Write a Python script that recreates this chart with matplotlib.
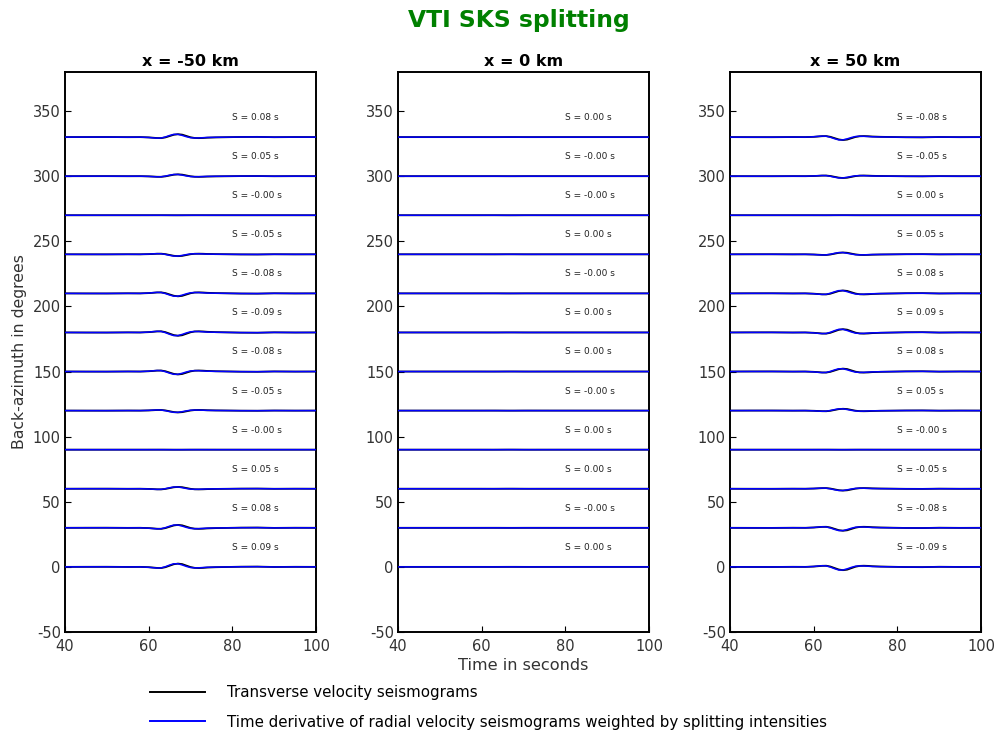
import numpy as np
import matplotlib
matplotlib.use("Agg")
import matplotlib.pyplot as plt
from matplotlib.lines import Line2D

plt.rcParams["axes.unicode_minus"] = False

# Back-azimuths of the traces (degrees)
back_azimuths = [0, 30, 60, 90, 120, 150, 180, 210, 240, 270, 300, 330]

# Station offsets and the splitting intensity measured at each back-azimuth (s)
offsets_km = [-50, 0, 50]
split_west = [0.09, 0.08, 0.05, -0.001, -0.05, -0.08, -0.09, -0.08, -0.05, -0.001, 0.05, 0.08]
split_mid = [0.001, -0.001, 0.001, 0.001, -0.001, 0.001, 0.001, -0.001, 0.001, -0.001, -0.001, 0.001]
split_east = [-0.09, -0.08, -0.05, -0.001, 0.05, 0.08, 0.09, 0.08, 0.05, 0.001, -0.05, -0.08]
split_sets = [split_west, split_mid, split_east]

# Sampled waveforms (normalised amplitude per second of splitting intensity)
time_s = [40, 45, 50, 55, 58, 60, 61, 62, 63, 64, 65, 66, 67, 68, 69, 70,
          71, 72, 73, 74, 76, 78, 82, 86, 90, 95, 100]
transverse = [0, 0.02, 0.03, -0.02, 0, -0.1, -0.2, -0.32, -0.35, -0.1, 0.35, 0.8,
              1.0, 0.85, 0.4, -0.05, -0.3, -0.35, -0.3, -0.2, -0.1, -0.05, 0.05,
              0.08, -0.03, 0.02, 0]
radial_deriv = [0, 0.02, 0.02, -0.02, 0, -0.12, -0.25, -0.35, -0.3, 0.05, 0.55,
                0.95, 0.95, 0.6, 0.15, -0.2, -0.3, -0.28, -0.2, -0.12, -0.06,
                -0.03, 0.04, 0.06, -0.02, 0.01, 0]

trace_gain = 28.0  # degrees of offset per unit (s) of splitting amplitude

fig = plt.figure(figsize=(9.97, 7.33), dpi=100)

tick_color = "#333333"
lefts = [65 / 997, 398 / 997, 730 / 997]
bottom = 1 - 632 / 733
width = 251 / 997
height = 560 / 733

t = np.array(time_s)
tr = np.array(transverse)
rd = np.array(radial_deriv)

for i, (x_km, svals) in enumerate(zip(offsets_km, split_sets)):
    ax = fig.add_axes([lefts[i], bottom, width, height])
    for baz, s in zip(back_azimuths, svals):
        ax.plot(t, baz + trace_gain * s * tr, color="black", lw=1.3, zorder=2)
        ax.plot(t, baz + trace_gain * s * rd, color="#0000ff", lw=1.1, zorder=3)
        ax.text(80, baz + 15, "S = %.2f s" % s, fontsize=6.5, color="#222222",
                ha="left", va="center")
    ax.set_xlim(40, 100)
    ax.set_ylim(-50, 380)
    ax.set_xticks([40, 60, 80, 100])
    ax.set_yticks(np.arange(-50, 351, 50))
    ax.tick_params(direction="in", length=4, width=0.8, labelsize=10.5,
                   labelcolor=tick_color, top=False, right=False)
    ax.tick_params(axis="x", pad=5)
    ax.tick_params(axis="y", pad=3)
    for sp in ax.spines.values():
        sp.set_linewidth(1.4)
        sp.set_color("black")
    ax.set_title("x = %d km" % x_km, fontsize=11.5, fontweight="bold", pad=4)
    if i == 0:
        ax.set_ylabel("Back-azimuth in degrees", fontsize=11.3, color=tick_color,
                      labelpad=4)
    if i == 1:
        ax.set_xlabel("Time in seconds", fontsize=11.6, color=tick_color, labelpad=3)

fig.text(0.52, 1 - 20 / 733, "VTI SKS splitting", color="green", fontsize=16.8,
         fontweight="bold", ha="center", va="center")

handles = [Line2D([], [], color="black", lw=1.4), Line2D([], [], color="#0000ff", lw=1.4)]
labels = ["Transverse velocity seismograms",
          "Time derivative of radial velocity seismograms weighted by splitting intensities"]
fig.legend(handles, labels, loc="center left",
           bbox_to_anchor=(150 / 997, 1 - 707.5 / 733), frameon=False,
           fontsize=10.8, handlelength=3.67, handletextpad=1.47, labelspacing=0.95,
           borderpad=0, borderaxespad=0)

fig.savefig("out.png", dpi=100)
